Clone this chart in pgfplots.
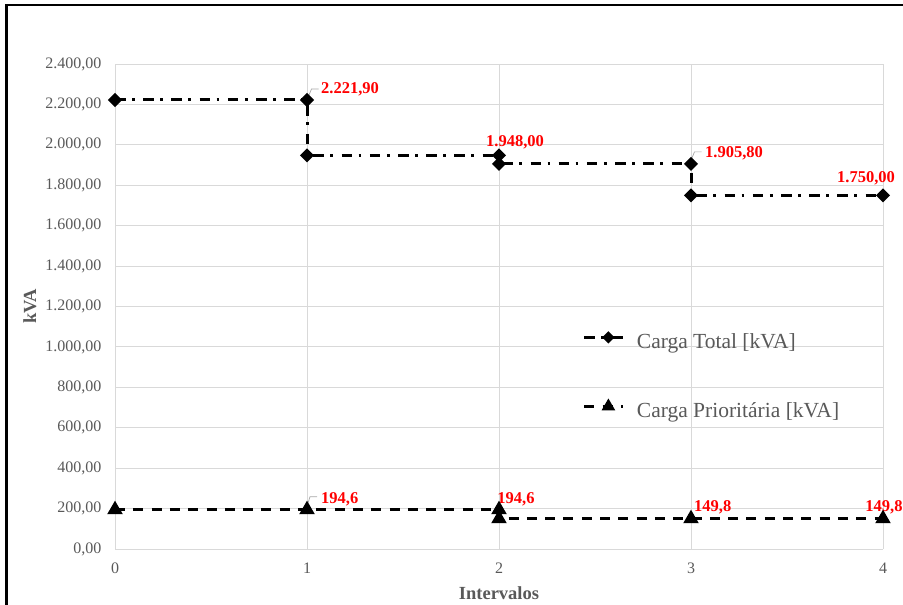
\documentclass[border=0pt]{standalone}
\usepackage{pgfplots}
\pgfplotsset{compat=1.18}
\usepackage{fontspec}
\setmainfont{Liberation Serif}
\definecolor{txtgray}{HTML}{595959}
\definecolor{gridgray}{HTML}{D9D9D9}
\definecolor{leadgray}{HTML}{A6A6A6}
\begin{document}
\begin{tikzpicture}
\path[use as bounding box] (0,0) rectangle (903pt,605pt);
\draw[black, line width=2.2pt] (6.5pt,0) -- (6.5pt,600pt) -- (903pt,600pt);
\begin{axis}[
  at={(115pt,56pt)}, anchor=south west,
  scale only axis, width=768pt, height=485pt,
  xmin=0, xmax=4, ymin=0, ymax=2400,
  xtick={0,1,2,3,4}, ytick={0,200,...,2400},
  grid=major, grid style={gridgray, line width=0.9pt},
  axis line style={draw=none},
  major tick length=0pt,
  /pgf/number format/assume math mode=true,
  tick label style={text=txtgray, font=\fontsize{16}{18}\selectfont},
  yticklabel style={xshift=-10pt, /pgf/number format/.cd, fixed, fixed zerofill, precision=2, set decimal separator={,}, set thousands separator={.}},
  xticklabel style={yshift=-10pt},
  xlabel={Intervalos}, ylabel={kVA},
  label style={text=txtgray, font=\bfseries\fontsize{18.5}{20}\selectfont},
  xlabel style={at={(axis description cs:0.5,-0.0907)}, anchor=center},
  ylabel style={at={(axis description cs:-0.111,0.5)}, anchor=center, rotate=0},
  legend style={at={(rel axis cs:0.609,0.447)}, anchor=north west, draw=none, fill=none,
    inner sep=0pt, row sep=48pt,
    font=\fontsize{21.5}{24}\selectfont, text=txtgray,
    nodes={inner sep=0pt, text height=16pt, text depth=5pt},
    /tikz/every odd column/.append style={column sep=12pt}},
  legend cell align=left,
  legend image code/.code={\draw[#1, every mark/.append style={scale=0.82}, mark repeat=2, mark phase=2] plot coordinates {(0pt,5.5pt) (24pt,5.5pt) (39pt,5.5pt)};},
  clip=false,
]
\addplot[black, line width=3pt, dash pattern=on 10.5pt off 6.5pt on 2.7pt off 8.5pt,
  mark=square*, mark size=3.5pt, mark options={solid, rotate=45}]
  coordinates {(0,2221.9) (1,2221.9) (1,1948) (2,1948) (2,1905.8) (3,1905.8) (3,1750) (4,1750)};
\addlegendentry{Carga Total [kVA]}
\addplot[black, line width=3pt, dash pattern=on 10pt off 8.3pt,
  mark=triangle*, mark size=6pt, mark options={solid}]
  coordinates {(0,194.6) (1,194.6) (2,194.6) (2,149.8) (3,149.8) (4,149.8)};
\addlegendentry{Carga Prioritária [kVA]}

\begin{scope}[every node/.style={text=red, font=\bfseries\fontsize{16.5}{18}\selectfont, inner sep=0pt}]
\node[anchor=west] at ([xshift=14pt, yshift=10.5pt]axis cs:1,2221.9) {2.221,90};
\node[anchor=center] at ([xshift=16pt, yshift=13pt]axis cs:2,1948) {1.948,00};
\node[anchor=west] at ([xshift=14pt, yshift=10.5pt]axis cs:3,1905.8) {1.905,80};
\node[anchor=center] at ([xshift=-17pt, yshift=17pt]axis cs:4,1750) {1.750,00};
\node[anchor=west] at ([xshift=14pt, yshift=10.5pt]axis cs:1,194.6) {194,6};
\node[anchor=center] at ([xshift=17pt, yshift=10.5pt]axis cs:2,194.6) {194,6};
\node[anchor=west] at ([xshift=3pt, yshift=11.7pt]axis cs:3,149.8) {149,8};
\node[anchor=center] at ([xshift=1pt, yshift=11.7pt]axis cs:4,149.8) {149,8};
\end{scope}
\draw[leadgray, line width=0.7pt] ([xshift=2pt, yshift=5pt]axis cs:1,2221.9) -- ++(2.5pt,6pt) -- ++(7pt,0pt);
\draw[leadgray, line width=0.7pt] ([xshift=1pt, yshift=6pt]axis cs:3,1905.8) -- ++(2.5pt,6pt) -- ++(7pt,0pt);
\draw[leadgray, line width=0.7pt] ([xshift=1pt, yshift=6.5pt]axis cs:1,194.6) -- ++(2pt,6.5pt) -- ++(7pt,0pt);
\end{axis}
\end{tikzpicture}
\end{document}
